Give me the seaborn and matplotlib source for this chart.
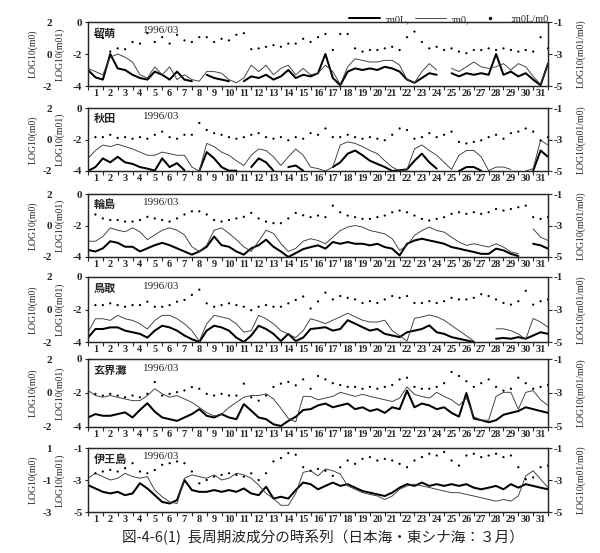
import numpy as np
import pandas as pd
import matplotlib
matplotlib.use('Agg')
import matplotlib.pyplot as plt
import seaborn as sns
from matplotlib.lines import Line2D

nan = np.nan
# time axis: days since 1996/03/01 00h, half-day steps (0 .. 31)
day = np.arange(63) * 0.5
day_labels = [str(d) for d in range(1, 32)]
month_label = '1996/03'
stations = ['留萌', '秋田', '輪島', '鳥取', '玄界灘', '伊王島']

# ---- 留萌 ----
rumoi_m0L = [-3.0, -3.46, -3.6, -2.0, -2.9, -3.0, -3.3, -3.5, -3.6, -3.1,
             -3.3, -3.6, -3.1, -3.6, -3.7, nan, -3.3, -3.5, -3.6, -3.7,
             nan, -3.7, -3.4, -3.5, -3.3, -3.6, -3.4, -3.0, -3.5, -3.3,
             -3.4, -3.2, -2.0, -3.5, -3.95, -3.1, -2.9, -3.0, -2.9, -3.0,
             -2.8, -2.9, -3.1, -3.6, -3.8, -3.5, -3.2, -3.3, nan, -3.2,
             -3.4, -3.2, -3.3, -3.2, -3.3, -2.0, -3.3, -3.1, -3.4, -3.2,
             -3.6, -3.95, -2.6]
rumoi_m0 = [-0.9, -1.1, -1.3, -0.2, 0.0, -0.2, -0.5, -1.3, -1.5, -0.8,
            -1.3, -0.8, -1.6, -1.3, -1.6, -1.7, -1.1, -1.1, -1.2, -1.6,
            -1.8, -1.5, -0.7, -1.1, -0.7, -1.3, -0.9, -0.7, -1.3, -0.9,
            -1.3, -1.2, -0.7, -1.1, -1.9, -0.8, -0.3, -0.4, -0.5, -0.5,
            -0.4, -0.4, -0.7, -1.6, -1.8, -1.1, -0.6, -1.0, nan, -0.9,
            -1.1, -0.8, -0.5, -0.8, -0.9, -0.8, -0.6, -1.0, -0.6, -0.8,
            -1.4, -1.9, -0.6]
rumoi_ratio = [-2.35, -1.8, -2.0, -2.85, -2.65, -2.7, -2.25, -2.35, -1.7, -2.25,
               -1.95, -2.35, -1.8, -2.15, -2.25, -1.95, -1.95, -2.25, -2.05, -2.15,
               -1.8, -1.7, -2.7, -2.65, -2.55, -2.45, -2.55, -2.35, -2.35, -2.05,
               -2.25, -1.95, -1.75, -2.75, -1.75, -1.75, -2.65, -2.85, -2.75, -2.75,
               -2.65, -2.55, -2.75, -1.95, -1.6, -2.25, -2.65, -2.55, -2.75, -2.65,
               -2.85, -2.95, -2.75, -2.75, -2.65, -2.75, -2.65, -2.75, -2.85, -2.75,
               -2.85, -1.95, -2.65]

# ---- 秋田 ----
akita_m0L = [-4.0, -3.75, -3.2, -3.45, -3.1, -3.45, -3.55, -3.75, -3.85, -3.98,
             -3.2, -3.75, -3.5, -3.95, nan, -4.0, -2.8, -3.2, -3.75, -3.98,
             -3.98, nan, -3.75, -3.2, -3.45, -3.98, nan, -3.75, -3.65, -3.98,
             nan, nan, nan, -3.75, -3.45, -2.9, -2.7, -3.0, -3.35, -3.55,
             -3.75, -4.0, -3.95, -3.9, -3.35, -2.9, -3.45, -3.85, nan, nan,
             -4.0, -3.75, -3.75, -3.98, nan, nan, nan, nan, nan, nan,
             -3.98, -2.7, -3.1]
akita_m0 = [-1.2, -0.7, -0.35, -0.45, -0.3, -0.45, -0.6, -0.8, -1.0, -1.0,
            -0.8, -0.9, -1.0, -1.0, -1.75, -2.0, -0.25, -0.45, -0.8, -1.0,
            -1.35, -1.65, -1.0, -0.6, -0.7, -1.1, -1.65, -1.1, -0.6, -1.0,
            -1.75, -1.85, -2.0, -1.75, -0.35, -0.15, -0.25, -0.45, -0.7, -0.9,
            -1.35, -1.75, -2.0, -1.9, -0.6, -0.35, -0.7, -1.0, -1.45, -1.9,
            -1.0, -0.7, -0.7, -1.1, -1.98, -1.75, -1.75, -1.9, nan, -2.0,
            -1.85, -0.05, -0.35]
akita_ratio = [-2.95, -2.85, -2.85, -2.7, -2.9, -2.85, -2.95, -2.85, -2.95, -2.7,
               -2.5, -2.85, -2.95, -2.7, -2.7, -1.95, -2.4, -2.6, -2.7, -2.85,
               -2.95, -2.85, -2.7, -2.6, -2.85, -2.95, -2.85, -3.05, -2.85, -2.95,
               -2.6, -2.7, -2.3, -2.85, -2.85, -2.7, -2.85, -2.95, -2.85, -2.95,
               -3.05, -2.7, -2.3, -2.4, -2.95, -2.85, -2.6, -2.85, -2.7, -2.5,
               -3.15, -3.25, -3.15, -3.05, -2.85, -2.7, -2.95, -2.6, -2.5, -2.3,
               -2.5, -3.05, -2.85]

# ---- 輪島 ----
wajima_m0L = [-3.55, -3.65, -3.45, -3.0, -3.1, -3.35, -3.35, -3.65, -3.45, -3.25,
              -3.1, -3.25, -3.45, -3.65, -3.85, -3.65, -3.35, -2.7, -3.25, -3.35,
              -3.65, -3.85, -3.45, -3.25, -2.9, -3.35, -3.65, -4.0, -3.75, -3.5,
              -3.37, -3.26, -3.47, -3.05, -3.16, -3.05, -3.16, -3.16, -3.26, -3.16,
              -3.37, -3.47, -3.9, -3.16, -2.95, -2.84, -2.95, -3.05, -3.16, -3.37,
              -3.47, -3.58, -3.68, -3.8, -3.8, -3.47, -3.58, -3.8, -3.94, nan,
              -3.16, -3.26, -3.47]
wajima_m0 = [-1.0, -1.0, -0.7, -0.15, -0.3, -0.4, -0.15, -0.4, -0.9, -0.6,
             -0.3, -0.15, -0.3, -0.6, -1.35, -1.65, -1.25, -0.3, -0.15, -0.5,
             -0.9, -1.35, -1.65, -1.0, -0.3, -0.5, -1.15, -1.65, -1.45, -1.0,
             -0.84, -0.95, -1.16, -0.74, -0.32, -0.1, 0.0, -0.1, -0.32, -0.42,
             -0.53, -0.84, -1.58, -1.26, -0.63, -0.32, -0.1, -0.32, -0.42, -0.74,
             -1.05, -1.26, -1.16, -1.26, -1.37, -1.16, -1.37, -1.68, -1.79, nan,
             -0.21, -0.74, -0.95]
wajima_ratio = [-2.55, -2.3, -2.55, -2.65, -2.65, -2.75, -2.75, -2.65, -2.45, -2.55,
                -2.65, -2.75, -2.55, -2.3, -2.1, -2.1, -2.3, -2.65, -2.75, -2.65,
                -2.55, -2.45, -2.2, -2.55, -2.75, -2.85, -2.85, -2.55, -2.2, -2.35,
                -2.47, -2.37, -2.47, -1.74, -2.16, -2.37, -2.47, -2.58, -2.58, -2.47,
                -2.37, -2.16, -2.05, -2.16, -2.37, -2.58, -2.68, -2.58, -2.47, -2.26,
                -2.16, -2.26, -2.16, -2.26, -2.16, -1.95, -2.05, -1.95, -1.84, -1.74,
                -2.47, -2.58, -2.47]

# ---- 鳥取 ----
tottori_m0L = [-3.73, -3.2, -3.2, -3.1, -3.1, -3.3, -3.4, -3.5, -3.73, -3.3,
               -3.0, -3.1, -3.3, -3.6, -3.83, -4.0, -3.3, -3.0, -3.1, -3.3,
               -3.73, -4.0, -3.6, -3.0, -3.2, -3.5, -3.94, -3.5, -3.94, -3.73,
               -3.2, -3.15, -3.09, -3.3, -3.2, -2.66, -2.87, -3.09, -3.3, -3.2,
               -3.5, -3.6, -3.7, -3.4, -3.3, -3.2, -2.98, -3.4, -3.5, -3.7,
               -3.8, -3.9, -4.0, nan, nan, -3.8, -3.75, -3.8, -3.7, -3.8,
               -3.6, -3.4, -3.5]
tottori_m0 = [-1.4, -0.57, -0.57, -0.67, -0.36, -0.57, -0.67, -0.88, -1.2, -0.67,
              -0.36, -0.36, -0.57, -0.88, -1.3, -1.94, -0.88, -0.36, -0.46, -0.57,
              -0.88, -1.4, -1.3, -0.36, -0.57, -0.88, -1.3, -1.52, -1.73, -1.3,
              -0.57, -0.7, -0.87, -0.66, -0.45, -0.23, -0.45, -0.66, -0.77, -0.77,
              -0.66, -1.3, -1.62, -1.94, -0.55, -0.45, -0.34, -0.45, -0.66, -0.98,
              -1.3, -1.62, -1.94, nan, nan, -1.19, -1.19, -1.3, -1.51, -1.83,
              -0.55, -0.77, -1.09]
tottori_ratio = [-2.3, -2.73, -2.73, -2.62, -2.73, -2.83, -2.73, -2.73, -2.52, -2.83,
                 -2.83, -2.73, -2.52, -2.41, -2.1, -1.78, -2.62, -2.83, -2.73, -2.62,
                 -2.73, -2.83, -3.04, -2.83, -2.73, -2.83, -2.83, -2.62, -2.41, -2.2,
                 -2.94, -2.5, -1.96, -2.38, -2.17, -2.28, -2.38, -2.6, -2.49, -2.6,
                 -2.38, -2.17, -2.28, -2.17, -2.6, -2.6, -2.49, -2.6, -2.49, -2.28,
                 -2.38, -2.38, -2.28, -2.06, -2.17, -2.38, -2.6, -2.7, -2.49, -1.85,
                 -2.7, -2.49, -2.38]

# ---- 玄界灘 ----
genkai_m0L = [-3.44, -3.24, -3.34, -3.34, -3.24, -3.14, -3.44, -3.0, -2.6, -3.1,
              -3.44, -3.54, -3.64, -3.44, -3.24, -2.95, -3.34, -3.44, -3.24, -3.44,
              -3.54, -2.65, -3.04, -3.44, -3.54, -3.84, -3.94, -3.64, -3.4, -3.0,
              -2.95, -2.73, -2.62, -2.84, -2.73, -2.62, -2.95, -2.84, -3.06, -2.95,
              -3.17, -2.84, -2.95, -1.86, -2.84, -2.62, -2.73, -2.95, -2.84, -3.17,
              -3.39, -2.0, -3.5, -3.6, -3.72, -3.6, -3.28, -3.17, -3.06, -2.84,
              -2.95, -3.06, -3.17]
genkai_m0 = [0.15, -0.15, -0.25, -0.15, -0.25, -0.35, -0.45, -0.45, -0.15, 0.25,
             -0.05, -0.25, -0.15, -0.35, -0.55, -0.85, -1.15, -1.35, -1.25, -0.85,
             -0.55, -0.25, -0.15, -0.15, -0.05, -0.35, -0.9, -1.5, -1.7, -0.2,
             -0.2, -0.4, -0.3, -0.2, 0.04, -0.08, -0.2, -0.08, -0.2, -0.3,
             -0.4, -0.5, -0.3, 0.36, -0.08, -0.2, -0.3, 0.04, -0.2, -0.4,
             -0.73, -0.3, -1.39, -1.6, -1.6, -0.2, 0.04, 0.04, -0.95, 0.04,
             0.14, -0.4, -0.73]
genkai_ratio = [-2.65, -3.05, -3.15, -3.05, -3.15, -3.25, -3.15, -3.25, -3.05, -2.35,
                -3.15, -3.05, -2.95, -2.85, -2.65, -2.75, -3.05, -3.15, -3.05, -3.15,
                -3.15, -2.45, -3.25, -3.45, -3.15, -2.65, -2.45, -2.35, -2.55, -2.2,
                -2.75, -2.0, -2.2, -2.42, -2.53, -2.64, -2.64, -2.75, -2.64, -2.75,
                -2.64, -2.53, -2.2, -2.1, -2.64, -2.75, -2.75, -2.64, -2.42, -1.76,
                -2.0, -2.31, -2.64, -2.42, -2.2, -2.64, -2.86, -2.75, -2.1, -2.42,
                -2.75, -2.64, -2.53]

# ---- 伊王島 ----
iojima_m0L = [-3.32, -3.53, -3.74, -3.84, -3.74, -3.95, -3.84, -3.2, -3.53, -3.95,
              -4.37, -4.47, -4.26, -3.0, -3.63, -3.74, -3.74, -3.63, -3.74, -3.63,
              -3.74, -3.53, -3.84, -3.95, -3.42, -4.16, -4.05, -4.16, -3.63, -3.16,
              -3.26, -3.58, -3.37, -3.16, -3.37, -3.26, -3.48, -3.69, -3.79, -3.9,
              -4.0, -3.79, -3.48, -3.26, -3.37, -3.16, -3.37, -3.26, -3.37, -3.26,
              -3.37, -3.26, -3.48, -3.58, -3.48, -3.37, -3.58, -3.26, -3.48, -3.26,
              -3.37, -3.48, -3.58]
iojima_m0 = [-0.89, -0.58, -0.79, -1.0, -0.89, -0.58, -0.79, -0.89, -0.79, -1.63,
             -2.05, -2.37, -2.47, -0.89, -0.68, -0.79, -0.89, -0.68, -1.0, -0.89,
             -0.58, -0.68, -0.89, -1.32, -1.84, -2.16, -2.58, -2.58, -1.84, -0.52,
             -0.42, -0.74, -0.31, -0.42, -0.63, -1.37, -1.58, -1.79, -1.9, -2.0,
             -2.22, -2.0, -1.58, -1.37, -1.26, -1.37, -1.47, -1.58, -1.69, -1.79,
             -1.79, -1.9, -2.0, -2.11, -2.22, -2.32, -2.22, -2.32, -2.0, -0.74,
             -0.42, -0.95, -1.47]
iojima_ratio = [-2.37, -2.58, -2.47, -2.37, -2.47, -2.26, -1.95, -2.47, -2.58, -2.37,
                -2.05, -1.95, -1.84, -1.95, -2.47, -3.21, -3.0, -2.79, -2.68, -2.58,
                -2.68, -2.79, -2.58, -3.0, -2.58, -1.84, -1.63, -1.32, -1.42, -2.2,
                -2.42, -2.31, -2.42, -2.74, -2.2, -1.78, -1.99, -1.68, -1.57, -1.78,
                -1.68, -1.78, -1.99, -2.2, -1.78, -1.57, -1.36, -1.47, -1.25, -1.78,
                -2.1, -1.47, -1.36, -1.57, -1.47, -1.36, -1.57, -1.47, -2.2, -2.95,
                -2.84, -2.2, -2.1]

m0L_series = [rumoi_m0L, akita_m0L, wajima_m0L, tottori_m0L, genkai_m0L, iojima_m0L]
m0_series = [rumoi_m0, akita_m0, wajima_m0, tottori_m0, genkai_m0, iojima_m0]
ratio_series = [rumoi_ratio, akita_ratio, wajima_ratio, tottori_ratio, genkai_ratio, iojima_ratio]

m01_ticks = [[0, -2, -4]] * 5 + [[-1, -3, -5]]
m0_ticks = [[2, 0, -2]] * 5 + [[1, -1, -3]]
ratio_ticks = [-1, -3, -5]

# ---------------------------------------------------------------- style
sns.set_style('ticks')
plt.rcParams['font.family'] = ['Liberation Serif', 'DejaVu Serif']
plt.rcParams['axes.unicode_minus'] = False
plt.rcParams['axes.linewidth'] = 0.9
CJK = ['Noto Sans CJK JP', 'DejaVu Sans']

W, H = 600, 553
fig = plt.figure(figsize=(6.0, 5.53), dpi=100)
fig.patch.set_facecolor('white')

panels_px = [(22, 86), (108, 171), (194, 257), (277, 342), (359, 427), (448, 512)]
left_px, right_px = 88, 548


def line_frame(vals):
    v = np.asarray(vals, float)
    seg = np.cumsum(np.isnan(v))
    return pd.DataFrame({'day': day, 'val': v, 'seg': seg}).dropna()


for i, (top, bot) in enumerate(panels_px):
    ax = fig.add_axes([left_px / W, 1 - bot / H, (right_px - left_px) / W, (bot - top) / H])
    ax_m0 = ax.twinx()
    ax_r = ax.twinx()

    # data
    sns.lineplot(data=line_frame(m0_series[i]), x='day', y='val', units='seg',
                 estimator=None, sort=False, color='#3a3a3a', lw=0.65, ax=ax_m0, legend=False)
    sns.lineplot(data=line_frame(m0L_series[i]), x='day', y='val', units='seg',
                 estimator=None, sort=False, color='black', lw=1.45, ax=ax, legend=False)
    sns.scatterplot(x=day, y=ratio_series[i], s=2.6, color='black', edgecolor='none',
                    marker='o', ax=ax_r, legend=False)

    t = m01_ticks[i]
    ax.set_ylim(min(t), max(t))
    ax.set_yticks(t)
    ax.set_xlim(0, 31)
    ax.set_xticks(np.arange(0, 32))
    ax.set_xticklabels([])
    ax.set_xticks(np.arange(31) + 0.5, minor=True)
    ax.set_xticklabels(day_labels, minor=True)
    ax.tick_params(axis='x', which='major', direction='out', length=3, width=0.8)
    ax.tick_params(axis='x', which='minor', length=0, pad=2, labelsize=7.5)
    for lab in ax.get_xticklabels(minor=True):
        lab.set_fontweight('bold')
    ax.tick_params(axis='y', direction='out', length=2.5, width=0.8, pad=1.5, labelsize=8)
    for lab in ax.get_yticklabels():
        lab.set_fontweight('bold')
    ax.set_xlabel('')
    ax.set_ylabel('LOG10(m01)', fontsize=7)
    ax.yaxis.set_label_coords(-0.05, 0.5)

    # m0 scale (outer left labels)
    tm = m0_ticks[i]
    ax_m0.set_ylim(min(tm), max(tm))
    ax_m0.set_yticks(tm)
    ax_m0.yaxis.tick_left()
    ax_m0.yaxis.set_label_position('left')
    ax_m0.spines['left'].set_position(('outward', 24))
    for s in ax_m0.spines.values():
        s.set_visible(False)
    ax_m0.tick_params(axis='y', length=0, pad=2, labelsize=8)
    for lab in ax_m0.get_yticklabels():
        lab.set_fontweight('bold')
    ax_m0.set_xlabel('')
    ax_m0.set_ylabel('LOG10(m0)', fontsize=7)
    ax_m0.yaxis.set_label_coords(-0.109, 0.5)

    # ratio scale (right)
    ax_r.set_ylim(-5, -1)
    ax_r.set_yticks(ratio_ticks)
    ax_r.tick_params(axis='y', direction='out', length=3, width=0.8, pad=1, labelsize=8)
    for lab in ax_r.get_yticklabels():
        lab.set_fontweight('bold')
    ax_r.set_xlabel('')
    ax_r.set_ylabel('LOG10(m01/m0)', fontsize=7)
    ax_r.yaxis.set_label_coords(1.062, 0.5)

    ax.text(0.012, 0.93, stations[i], transform=ax.transAxes, ha='left', va='top',
            fontsize=8, fontweight='bold', family=CJK)
    ax.text(0.12, 0.93, month_label, transform=ax.transAxes, ha='left', va='top',
            fontsize=8)

# legend
handles = [Line2D([], [], color='black', lw=1.45),
           Line2D([], [], color='#3a3a3a', lw=0.65),
           Line2D([], [], color='black', lw=0, marker='o', markersize=1.5)]
fig.legend(handles, [':m0L,', ':m0,', ':m0L/m0'], loc='lower right',
           bbox_to_anchor=(548 / W, 1 - 24 / H), ncol=3, frameon=False,
           fontsize=7.5, handlelength=3.0, handletextpad=0.35, columnspacing=0.6,
           borderpad=0, borderaxespad=0)

fig.text(0.538, 1 - 537 / H, '図-4-6(1)  長周期波成分の時系列（日本海・東シナ海：３月）',
         ha='center', va='center', fontsize=10.5, family=CJK)

fig.savefig('out.png', dpi=100, facecolor='white')
